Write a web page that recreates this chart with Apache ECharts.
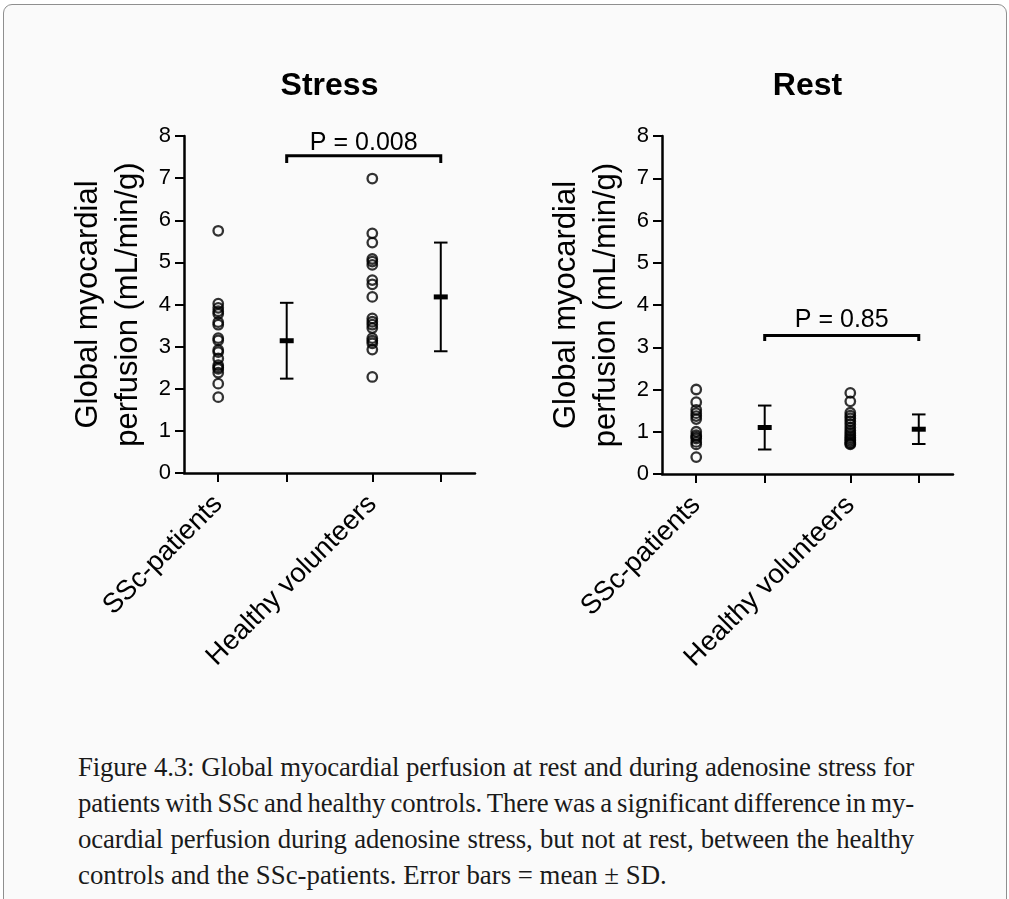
<!DOCTYPE html>
<html>
<head>
<meta charset="utf-8">
<script src="https://cdn.jsdelivr.net/npm/echarts@6/dist/echarts.min.js"></script>
<style>
  html, body { margin: 0; padding: 0; background: #ffffff; width: 1009px; height: 899px; overflow: hidden; }
  #frame { position: absolute; left: 3px; top: 4px; width: 1004px; height: 1000px; box-sizing: border-box;
           border: 1.5px solid #8f8f8f; border-radius: 9px; background: #fafafa; }
  #chart { position: absolute; left: 0; top: 0; width: 1009px; height: 740px; }
  #caption { position: absolute; left: 78px; top: 749px; width: 836px; color: #1a1a1a;
             font-family: 'Liberation Serif', 'DejaVu Serif', serif; font-size: 26.8px; line-height: 36px; }
  #caption div { text-align: justify; text-align-last: justify; white-space: nowrap;
                 word-spacing: -3px; letter-spacing: -0.15px; }
  #caption div.last { text-align-last: left; word-spacing: 0; letter-spacing: 0; }
</style>
</head>
<body>
<div id="frame"></div>
<div id="chart"></div>
<div id="caption"></div>
<script>
// Groups and where their columns sit on the horizontal scale
const groupNames = ['SSc-patients', 'Healthy volunteers'];
const groupX = [1, 5.5];      // raw-value columns
const summaryX = [3, 7.5];    // mean ± SD columns
const yTicks = [0, 1, 2, 3, 4, 5, 6, 7, 8];

// Global myocardial perfusion (mL/min/g), one value per subject
const stressSSc = [5.75, 4.02, 3.92, 3.84, 3.78, 3.58, 3.52, 3.20, 3.15, 2.92, 2.87, 2.72, 2.56, 2.51, 2.47, 2.38, 2.12, 1.80];
const stressHealthy = [6.99, 5.69, 5.47, 5.08, 5.02, 4.94, 4.58, 4.48, 4.18, 3.67, 3.59, 3.52, 3.44, 3.20, 3.14, 3.08, 2.93, 2.28];
const restSSc = [2.00, 1.70, 1.52, 1.44, 1.37, 1.30, 1.00, 0.92, 0.88, 0.84, 0.76, 0.70, 0.40];
const restHealthy = [1.92, 1.72, 1.45, 1.38, 1.32, 1.25, 1.18, 1.10, 1.03, 0.97, 0.92, 0.87, 0.83, 0.79, 0.75, 0.72, 0.70];

// Group summaries: mean and SD
const stressMean = [3.14, 4.18];
const stressSD = [0.90, 1.29];
const restMean = [1.10, 1.06];
const restSD = [0.52, 0.35];

// Significance brackets: [from x, to x, bracket y, foot y, text y]
const panelTitles = ['Stress', 'Rest'];
const pLabels = ['P = 0.008', 'P = 0.85'];
const stressBracket = [3, 7.5, 7.53, 7.36, 7.84];
const restBracket = [3, 7.5, 3.28, 3.15, 3.64];

const captionLines = [
  'Figure 4.3: Global myocardial perfusion at rest and during adenosine stress for',
  'patients with SSc and healthy controls. There was a significant difference in my-',
  'ocardial perfusion during adenosine stress, but not at rest, between the healthy',
  'controls and the SSc-patients. Error bars = mean ± SD.'
];

// ---- layout ----
const FONT = 'Liberation Sans';
const panels = [
  { left: 184, top: 136, width: 291, height: 337 },
  { left: 662, top: 136, width: 291, height: 338 }
];

const cap = document.getElementById('caption');
captionLines.forEach((t, i) => {
  const d = document.createElement('div');
  d.textContent = t;
  if (i === captionLines.length - 1) d.className = 'last';
  cap.appendChild(d);
});

function pointsAt(x, values) { return values.map(v => [x, v]); }

function renderErrorBar(params, api) {
  const x = api.value(0), m = api.value(1), sd = api.value(2);
  const pm = api.coord([x, m]);
  const hi = api.coord([x, m + sd]);
  const lo = api.coord([x, m - sd]);
  const capW = 13.5, barW = 14, barH = 5;
  const st = { stroke: '#000', lineWidth: 2 };
  return {
    type: 'group',
    children: [
      { type: 'line', shape: { x1: pm[0], y1: hi[1], x2: pm[0], y2: lo[1] }, style: st },
      { type: 'line', shape: { x1: pm[0] - capW / 2, y1: hi[1], x2: pm[0] + capW / 2, y2: hi[1] }, style: st },
      { type: 'line', shape: { x1: pm[0] - capW / 2, y1: lo[1], x2: pm[0] + capW / 2, y2: lo[1] }, style: st },
      { type: 'rect', shape: { x: pm[0] - barW / 2, y: pm[1] - barH / 2, width: barW, height: barH }, style: { fill: '#000' } }
    ]
  };
}

function makeBracketRenderer(label) {
  return function (params, api) {
    const a = api.coord([api.value(0), api.value(2)]);
    const b = api.coord([api.value(1), api.value(2)]);
    const foot = api.coord([api.value(0), api.value(3)]);
    const t = api.coord([(api.value(0) + api.value(1)) / 2, api.value(4)]);
    return {
      type: 'group',
      children: [
        { type: 'polyline',
          shape: { points: [[a[0], foot[1]], [a[0], a[1]], [b[0], b[1]], [b[0], foot[1]]] },
          style: { stroke: '#000', lineWidth: 3, fill: null } },
        { type: 'text',
          style: { x: t[0], y: t[1], text: label, align: 'center', verticalAlign: 'middle',
                   font: '25px "' + FONT + '"', fill: '#000' } }
      ]
    };
  };
}

const xAxes = panels.map((p, i) => ({
  type: 'value', gridIndex: i, min: 0, max: 8.5,
  axisLine: { show: true, onZero: false, lineStyle: { color: '#000', width: 2.5 } },
  axisTick: { show: true, length: 9, lineStyle: { color: '#000', width: 2 }, customValues: groupX.concat(summaryX) },
  axisLabel: {
    show: true, customValues: groupX, rotate: 45, margin: 27,
    fontSize: 27.5, color: '#000', fontFamily: FONT,
    formatter: v => groupNames[groupX.indexOf(v)] || ''
  },
  splitLine: { show: false }
}));

const yAxes = panels.map((p, i) => ({
  type: 'value', gridIndex: i, min: yTicks[0], max: yTicks[yTicks.length - 1], interval: 1,
  axisLine: { show: true, onZero: false, lineStyle: { color: '#000', width: 2.5 } },
  axisTick: { show: true, length: 9, lineStyle: { color: '#000', width: 2 } },
  axisLabel: { fontSize: 22, color: '#000', margin: 13, fontFamily: FONT },
  splitLine: { show: false },
  name: 'Global myocardial\nperfusion (mL/min/g)',
  nameLocation: 'middle', nameRotate: 90, nameGap: 36,
  nameTextStyle: { fontSize: 31, lineHeight: 40, color: '#000', fontFamily: FONT }
}));

const pointStyle = { color: 'rgba(0,0,0,0)', borderColor: '#000', borderWidth: 2.3 };
function scatter(i, x, values) {
  return { type: 'scatter', xAxisIndex: i, yAxisIndex: i, symbol: 'circle', symbolSize: 9.5,
           itemStyle: pointStyle, data: pointsAt(x, values), silent: true };
}
function errorBars(i, means, sds) {
  return { type: 'custom', xAxisIndex: i, yAxisIndex: i, renderItem: renderErrorBar, silent: true,
           data: summaryX.map((x, k) => [x, means[k], sds[k]]) };
}
function bracket(i, row) {
  return { type: 'custom', xAxisIndex: i, yAxisIndex: i, renderItem: makeBracketRenderer(pLabels[i]),
           silent: true, data: [row] };
}

const chart = echarts.init(document.getElementById('chart'), null, { renderer: 'canvas' });
chart.setOption({
  animation: false,
  backgroundColor: 'transparent',
  textStyle: { fontFamily: FONT },
  grid: panels.map(p => Object.assign({ outerBoundsMode: 'none', containLabel: false }, p)),
  graphic: panels.map((p, i) => ({
    type: 'text', x: p.left + p.width / 2, y: 86.5,
    style: { text: panelTitles[i], align: 'center', verticalAlign: 'middle',
             font: 'bold 32px "' + FONT + '"', fill: '#000' }
  })),
  xAxis: xAxes,
  yAxis: yAxes,
  series: [
    scatter(0, groupX[0], stressSSc),
    scatter(0, groupX[1], stressHealthy),
    errorBars(0, stressMean, stressSD),
    bracket(0, stressBracket),
    scatter(1, groupX[0], restSSc),
    scatter(1, groupX[1], restHealthy),
    errorBars(1, restMean, restSD),
    bracket(1, restBracket)
  ]
});
</script>
</body>
</html>
